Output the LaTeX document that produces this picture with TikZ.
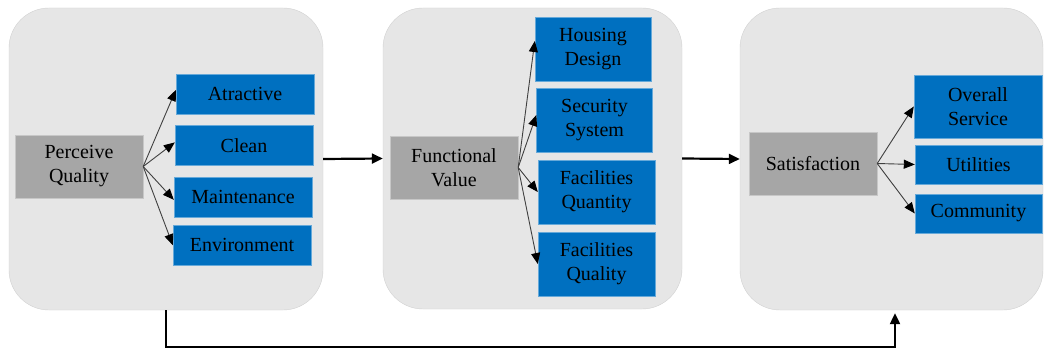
\documentclass[tikz,border=0pt]{standalone}
\usepackage{fontspec}
\setmainfont{Liberation Serif}
\newfontfamily\boxfont{Liberation Serif}
\usepackage{xcolor}
\usepackage{tikz}
\usetikzlibrary{arrows.meta, positioning}
\definecolor{panelgray}{RGB}{230,230,230}
\definecolor{factorgray}{RGB}{166,166,166}
\definecolor{itemblue}{RGB}{0,112,192}
\tikzstyle{panel} = [rectangle, rounded corners=40pt, draw=black!18, fill=panelgray, inner sep=0pt]
\tikzstyle{factor} = [rectangle, minimum width=128pt, minimum height=63pt, inner sep=0pt, align=center, draw=black!22, fill=factorgray, font=\boxfont\fontsize{20}{24}\selectfont]
\tikzstyle{item} = [rectangle, minimum height=40pt, inner sep=0pt, align=center, draw=itemblue!60!white, fill=itemblue, font=\boxfont\fontsize{20}{24}\selectfont]
\tikzstyle{fan} = [line width=0.9pt, draw=black!75, -{Triangle[length=11pt,width=9pt,color=black]}]
\tikzstyle{arrow} = [line width=2.2pt, -{Triangle[length=11pt,width=10pt]}]

\begin{document}
\begin{tikzpicture}[x=1pt, y=-1pt]

\useasboundingbox (0,0) rectangle (1045,350);

% the three stages
\node[panel, minimum width=314pt, minimum height=302pt] (pqpanel) at (166,159) {};
\node[panel, minimum width=299pt, minimum height=301pt] (fvpanel) at (532.5,158.5) {};
\node[panel, minimum width=303pt, minimum height=302pt] (satpanel) at (891.5,159) {};

% perceived quality
\node[factor] (pq) at (79,166.5) {Perceive\\Quality};
\node[item, minimum width=138pt] (atr) at (245,94) {Atractive};
\node[item, minimum width=138pt, below=11pt of atr.south, anchor=north, xshift=-1pt] (clean) {Clean};
\node[item, minimum width=138pt, below=11pt of clean.south, anchor=north, xshift=-1pt] (maint) {Maintenance};
\node[item, minimum width=138pt, below=8pt of maint.south, anchor=north, xshift=-1pt] (env) {Environment};

% functional value
\node[factor] (fv) at (454,167.5) {Functional\\Value};
\node[item, minimum width=116pt, minimum height=64pt] (design) at (593,49) {Housing\\Design};
\node[item, minimum width=116pt, minimum height=64pt] (security) at (594.5,120) {Security\\System};
\node[item, minimum width=117pt, minimum height=64pt] (fquantity) at (596.5,192) {Facilities\\Quantity};
\node[item, minimum width=117pt, minimum height=64pt] (fquality) at (596.5,264) {Facilities\\Quality};

% satisfaction
\node[factor] (sat) at (813,163.5) {Satisfaction};
\node[item, minimum width=128pt, minimum height=63pt] (service) at (978,106.5) {Overall\\Service};
\node[item, minimum width=127pt, minimum height=39pt] (util) at (978.5,164.5) {Utilities};
\node[item, minimum width=127pt, minimum height=39pt] (community) at (978.5,213.5) {Community};

% indicators
\draw[fan] (pq.east) -- ([yshift=4pt]atr.west);
\draw[fan] (pq.east) -- ([yshift=3pt]clean.west);
\draw[fan] (pq.east) -- ([yshift=-3pt]maint.west);
\draw[fan] (pq.east) -- (env.west);

\draw[fan] (fv.east) -- ([yshift=8pt]design.west);
\draw[fan] (fv.east) -- ([yshift=5pt]security.west);
\draw[fan] (fv.east) -- (fquantity.west);
\draw[fan] (fv.east) -- (fquality.west);

\draw[fan] (sat.east) -- (service.west);
\draw[fan] (sat.east) -- (util.west);
\draw[fan] (sat.east) -- (community.west);

% links between stages
\draw[arrow] (pqpanel.east) -- (fvpanel.west);
\draw[arrow] (fvpanel.east) -- (satpanel.west);
\draw[arrow, shorten >=3pt] (pqpanel.south) -- ++(0,37) -| ([xshift=3.5pt]satpanel.south);

\end{tikzpicture}
\end{document}
